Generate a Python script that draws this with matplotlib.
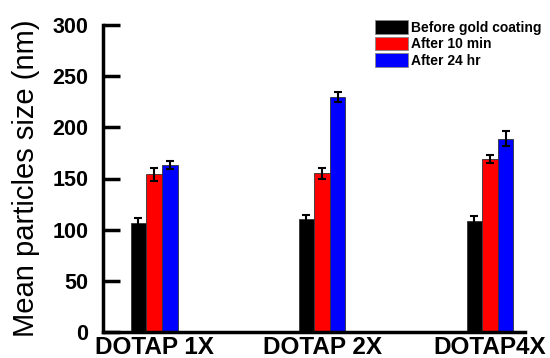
import matplotlib
matplotlib.use("Agg")
import matplotlib.pyplot as plt
import numpy as np

categories = ["DOTAP 1X", "DOTAP 2X", "DOTAP4X"]
series = ["Before gold coating", "After 10 min", "After 24 hr"]
values = [
    [107, 110, 108],   # Before gold coating
    [154, 155, 169],   # After 10 min
    [163, 230, 189],   # After 24 hr
]
errors = [
    [4, 4, 5],
    [6, 5, 4],
    [4, 5, 7],
]
colors = ["#000000", "#ff0000", "#0000ff"]
yticks = [0, 50, 100, 150, 200, 250, 300]

plt.rcParams['font.family'] = ['Liberation Sans', 'DejaVu Sans']

fig = plt.figure(figsize=(5.5, 3.58), dpi=100)
ax = fig.add_axes([103/550, 1 - 332/358, (525-103)/550, (332-25)/358])

x = np.arange(len(categories))
w = 0.093
for i, (s, v, e, c) in enumerate(zip(series, values, errors, colors)):
    ax.bar(x + (i - 1) * w, v, w, color=c, edgecolor="#333333", linewidth=0.6,
           label=s, yerr=e, capsize=3,
           error_kw=dict(ecolor="black", elinewidth=1.5, capthick=1.5))

ax.set_xlim(-0.304, 2.208)
ax.set_ylim(0, 300)
ax.set_yticks(yticks)
ax.set_xticks(x)
ax.set_xticklabels(categories, fontsize=17.5, fontweight="bold")
ax.set_yticklabels([str(t) for t in yticks], fontsize=15.5, fontweight="bold")
ax.tick_params(axis='y', direction='in', length=12, width=2.5, pad=10.5)
ax.tick_params(axis='x', length=0, pad=3)
ax.set_ylabel("Mean particles size (nm)", fontsize=21, labelpad=9)

for side in ["top", "right"]:
    ax.spines[side].set_visible(False)
for side in ["left", "bottom"]:
    ax.spines[side].set_linewidth(2.5)

leg = ax.legend(loc="upper left", bbox_to_anchor=((375-103)/422, 1 + 5/307),
                frameon=False, prop=dict(size=10, weight="bold"),
                handlelength=2.4, handleheight=1.15, handletextpad=0.2,
                labelspacing=0.15, borderaxespad=0, borderpad=0)
for h in leg.legend_handles:
    h.set_edgecolor("#888888")
    h.set_linewidth(0.6)

fig.savefig("out.png", dpi=100)
